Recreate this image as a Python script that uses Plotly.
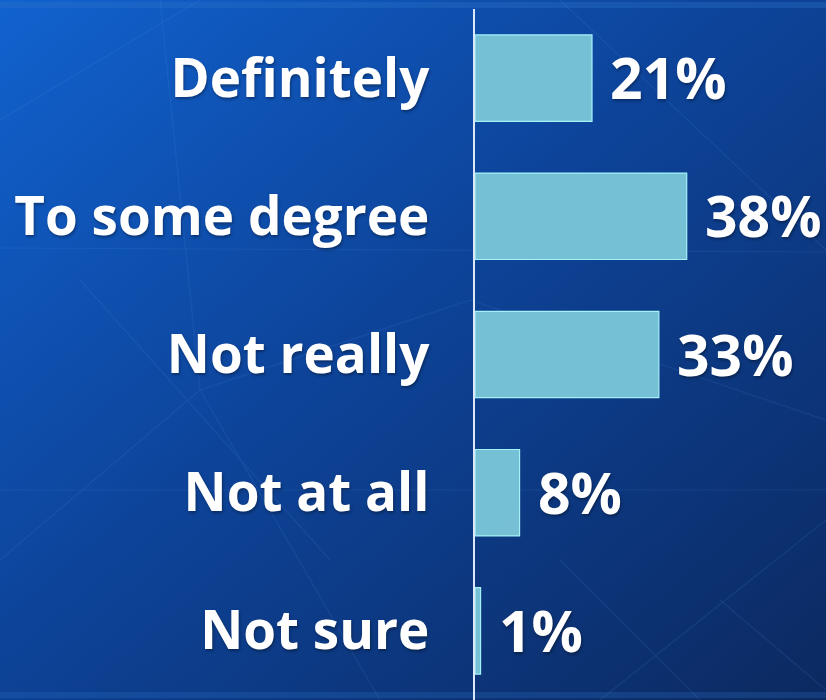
import base64
import plotly.graph_objects as go

# Survey responses (share of respondents, %)
categories = ["Definitely", "To some degree", "Not really", "Not at all", "Not sure"]
shares = [21, 38, 33, 8, 1]
value_labels = ["21%", "38%", "33%", "8%", "1%"]

W, H = 826, 700
M_L, M_R, M_T, M_B = 475, 0, 9, 0
FONT = "'Open Sans', Lato, sans-serif"

# Blue gradient backdrop with a faint network of lines
bg_svg = f"""<svg xmlns='http://www.w3.org/2000/svg' width='{W}' height='{H}' viewBox='0 0 {W} {H}'>
<defs>
<linearGradient id='g' x1='0' y1='0' x2='1' y2='1'>
<stop offset='0' stop-color='#1162cf'/>
<stop offset='0.45' stop-color='#0d449a'/>
<stop offset='1' stop-color='#0c2960'/>
</linearGradient>
</defs>
<rect width='{W}' height='{H}' fill='url(#g)'/>
<rect x='0' y='2' width='{W}' height='6' fill='#2a73c8' opacity='0.35'/>
<rect x='0' y='692' width='{W}' height='6' fill='#2a73c8' opacity='0.25'/>
<g stroke='#5aa0e8' stroke-width='1.2' opacity='0.12' fill='none'>
<line x1='0' y1='490' x2='{W}' y2='490'/>
<line x1='0' y1='248' x2='{W}' y2='252'/>
<line x1='80' y1='280' x2='330' y2='560'/>
<line x1='200' y1='390' x2='0' y2='560'/>
<line x1='200' y1='390' x2='470' y2='300'/>
<line x1='200' y1='390' x2='380' y2='700'/>
<line x1='160' y1='0' x2='200' y2='390'/>
<line x1='0' y1='120' x2='200' y2='0'/>
<line x1='470' y1='300' x2='826' y2='420'/>
<line x1='560' y1='0' x2='826' y2='250'/>
<line x1='600' y1='700' x2='826' y2='520'/>
<line x1='720' y1='600' x2='826' y2='690'/>
<line x1='560' y1='560' x2='700' y2='700'/>
</g>
</svg>"""
bg_uri = "data:image/svg+xml;base64," + base64.b64encode(bg_svg.encode()).decode()

plot_w = W - M_L - M_R
plot_h = H - M_T - M_B

fig = go.Figure(
    go.Bar(
        x=shares,
        y=categories,
        orientation="h",
        marker=dict(color="rgba(122,196,216,0.97)", line=dict(color="#a4f2f8", width=1.2)),
        width=0.625,
        hoverinfo="skip",
    )
)

for cat, val, lab in zip(categories, shares, value_labels):
    fig.add_annotation(
        x=val, y=cat, text=lab, showarrow=False,
        xanchor="left", yanchor="middle", xshift=16, yshift=1,
        font=dict(family=FONT, size=57, color="white", weight="bold",
                  shadow="1px 2px 3px rgba(0,0,0,0.35)"),
    )

fig.update_layout(
    width=W, height=H,
    margin=dict(l=M_L, r=M_R, t=M_T, b=M_B, autoexpand=False),
    paper_bgcolor="#0d3a82",
    plot_bgcolor="rgba(0,0,0,0)",
    showlegend=False,
    images=[dict(
        source=bg_uri, xref="paper", yref="paper",
        x=-M_L / plot_w, y=1 + M_T / plot_h,
        sizex=W / plot_w, sizey=H / plot_h,
        xanchor="left", yanchor="top", sizing="stretch", layer="below",
    )],
    xaxis=dict(range=[0, 63], visible=False, fixedrange=True),
    yaxis=dict(
        categoryorder="array", categoryarray=categories[::-1],
        range=[-0.5, 4.5], automargin=False,
        showline=True, linecolor="#dce8f5", linewidth=2,
        showgrid=False, ticks="", ticklabelstandoff=33,
        tickfont=dict(family=FONT, size=53, color="white", weight="bold",
                      shadow="1px 2px 3px rgba(0,0,0,0.35)"),
    ),
)

fig.write_html("out.html")
